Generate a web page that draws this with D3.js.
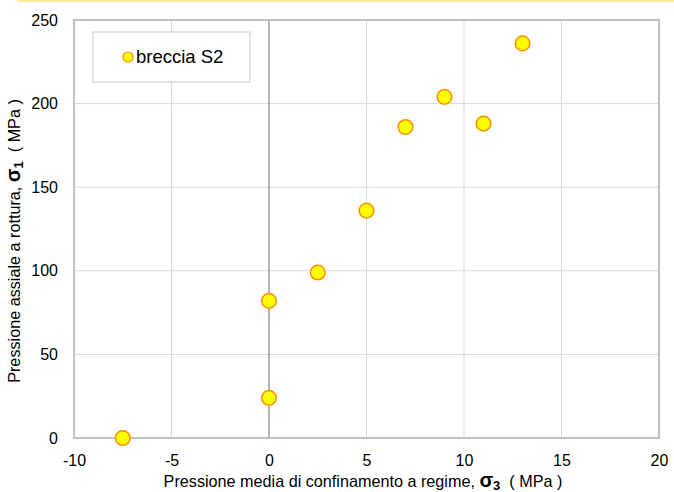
<!DOCTYPE html>
<html><head><meta charset="utf-8">
<script src="https://cdn.jsdelivr.net/npm/d3@7"></script>
<style>body{margin:0;background:#fff;}svg{display:block;font-family:"Liberation Sans",Arial,sans-serif;}</style>
</head><body>
<script>
const seriesName = "breccia S2";
const xValues = [-7.5, 0, 0, 2.5, 5, 7, 9, 11, 13];
const yValues = [0, 24, 82, 99, 136, 186, 204, 188, 236];
const xTicks = [-10, -5, 0, 5, 10, 15, 20];
const yTicks = [0, 50, 100, 150, 200, 250];

const W = 674, H = 492;
const svg = d3.select("body").append("svg").attr("width", W).attr("height", H);
const m = {l: 74, r: 659, t: 20, b: 438};
const x = d3.scaleLinear().domain([-10, 20]).range([m.l, m.r]);
const y = d3.scaleLinear().domain([0, 250]).range([m.b, m.t]);

// top yellow rule
svg.append("line").attr("x1", 17).attr("x2", W).attr("y1", 1).attr("y2", 1)
  .attr("stroke", "#ffe699").attr("stroke-width", 2);

// gridlines
const g = svg.append("g");
g.selectAll(".vg").data(xTicks.filter(d => d !== 0 && d !== -10 && d !== 20)).enter().append("line")
  .attr("x1", d => x(d)).attr("x2", d => x(d)).attr("y1", m.t).attr("y2", m.b)
  .attr("stroke", "#d9d9d9").attr("stroke-width", 1);
g.selectAll(".hg").data(yTicks.filter(d => d !== 0 && d !== 250)).enter().append("line")
  .attr("x1", m.l).attr("x2", m.r).attr("y1", d => y(d)).attr("y2", d => y(d))
  .attr("stroke", "#d9d9d9").attr("stroke-width", 1);
// zero line
g.append("line").attr("x1", x(0)).attr("x2", x(0)).attr("y1", m.t).attr("y2", m.b)
  .attr("stroke", "#6a6a6a").attr("stroke-width", 1);
// frame
g.append("rect").attr("x", m.l).attr("y", m.t).attr("width", m.r - m.l).attr("height", m.b - m.t)
  .attr("fill", "none").attr("stroke", "#c0c0c0").attr("stroke-width", 2);

const fmt = d => String(d);
// axes tick labels
const xa = d3.axisBottom(x).tickValues(xTicks).tickFormat(fmt).tickSize(0).tickPadding(17);
svg.append("g").attr("transform", `translate(0,${m.b})`).call(xa)
  .call(s => s.select(".domain").remove())
  .selectAll("text").attr("font-size", 16).attr("fill", "#000").attr("font-family", "Liberation Sans, Arial, sans-serif");
const ya = d3.axisLeft(y).tickValues(yTicks).tickFormat(fmt).tickSize(0).tickPadding(16);
svg.append("g").attr("transform", `translate(${m.l},0)`).call(ya)
  .call(s => s.select(".domain").remove())
  .selectAll("text").attr("font-size", 16).attr("fill", "#000").attr("font-family", "Liberation Sans, Arial, sans-serif");

// axis titles
const xt = svg.append("text").attr("x", 363).attr("y", 487).attr("text-anchor", "middle")
  .attr("font-size", 16.2).attr("fill", "#000");
xt.append("tspan").text("Pressione media di confinamento a regime, ");
xt.append("tspan").text("σ").attr("font-weight", "bold").attr("font-size", 20);
xt.append("tspan").text("3").attr("font-weight", "bold").attr("font-size", 13).attr("dy", 3);
xt.append("tspan").text("\u00a0\u00a0( MPa )").attr("dy", -3);

const yt = svg.append("text").attr("transform", `translate(20,${241}) rotate(-90)`).attr("text-anchor", "middle")
  .attr("font-size", 16.2).attr("fill", "#000");
yt.append("tspan").text("Pressione assiale a rottura, ");
yt.append("tspan").text("σ").attr("font-weight", "bold").attr("font-size", 20);
yt.append("tspan").text("1").attr("font-weight", "bold").attr("font-size", 13).attr("dy", 3);
yt.append("tspan").text("\u00a0\u00a0( MPa )").attr("dy", -3);

// points
svg.append("g").selectAll("circle").data(xValues.map((d, i) => [d, yValues[i]])).enter().append("circle")
  .attr("cx", d => x(d[0])).attr("cy", d => y(d[1])).attr("r", 7.3)
  .attr("fill", "#ffff00").attr("stroke", "#ff8c00").attr("stroke-width", 1.5);

// legend
const lg = svg.append("g");
lg.append("rect").attr("x", 93).attr("y", 32).attr("width", 157).attr("height", 50)
  .attr("fill", "#fff").attr("stroke", "#c8c8c8").attr("stroke-width", 1);
lg.append("circle").attr("cx", 128).attr("cy", 57).attr("r", 5)
  .attr("fill", "#ffff00").attr("stroke", "#ff8c00").attr("stroke-width", 1.2);
lg.append("text").attr("x", 136).attr("y", 63).attr("font-size", 18.5).attr("fill", "#000").text(seriesName);
</script>
</body></html>
